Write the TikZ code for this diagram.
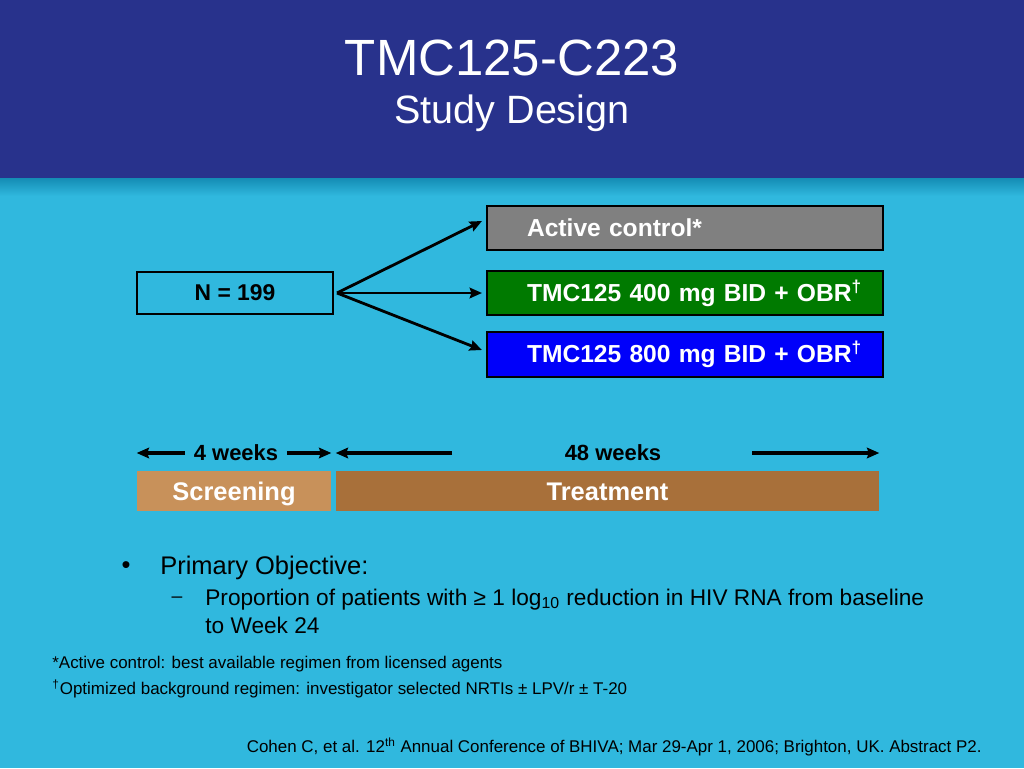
\documentclass[tikz,border=0pt]{standalone}
\usepackage{fontspec}
\setmainfont{Liberation Sans}
\usetikzlibrary{arrows.meta}
\definecolor{headblue}{RGB}{40,50,140}
\definecolor{skyblue}{RGB}{48,184,222}
\definecolor{edgeteal}{RGB}{20,140,180}
\definecolor{ctrlgray}{RGB}{128,128,128}
\definecolor{armgreen}{RGB}{0,122,0}
\definecolor{armblue}{RGB}{0,0,250}
\definecolor{screentan}{RGB}{200,145,90}
\definecolor{treatbrown}{RGB}{168,112,58}
\begin{document}
\begin{tikzpicture}[x=0.02cm,y=-0.02cm,
	armbox/.style={draw=black,line width=1.2pt,minimum width=7.92cm,minimum height=0.88cm,text width=7.8cm,align=left,inner sep=0pt,execute at begin node=\hspace*{0.74cm},text=white,font=\bfseries\fontsize{14}{17}\selectfont},
	phase/.style={minimum height=0.8cm,inner sep=0pt,text height=10.4pt,text depth=0pt,text=white,font=\bfseries\fontsize{14.5}{17}\selectfont},
	weeks/.style={inner sep=0.17cm,font=\bfseries\fontsize{12.5}{15}\selectfont},
	fanarrow/.style={-{Stealth[length=7pt,width=6pt,inset=1pt]},line width=1.6pt},
	timearrow/.style={-{Stealth[length=7pt,width=6pt,inset=1pt]},line width=2pt}]
		% background and title
		\fill[skyblue] (0,0) rectangle (1024,768);
		\shade[top color=edgeteal,bottom color=skyblue] (0,178) rectangle (1024,196);
		\fill[headblue] (0,0) rectangle (1024,178);
		\node[text=white,font=\fontsize{29}{33}\selectfont] (title) at (512,58) {TMC125-C223};
		\node[text=white,font=\fontsize{22.5}{26}\selectfont] (subtitle) at (512,113) {Study Design};
		% randomisation
		\node[draw=black,line width=1.2pt,minimum width=3.92cm,minimum height=0.84cm,font=\bfseries\fontsize{13}{16}\selectfont] (total) at (235,293) {N = 199};
		\node[armbox,fill=ctrlgray] (ctrl) at (685,228) {Active control*};
		\node[armbox,fill=armgreen] (arm400) at (685,293) {TMC125 400 mg BID + OBR\textsuperscript{†}};
		\node[armbox,fill=armblue,minimum height=0.9cm] (arm800) at (685,354.5) {TMC125 800 mg BID + OBR\textsuperscript{†}};
		\coordinate (fan) at (337,293);
		\draw[fanarrow] (fan) -- ([xshift=-0.08cm,yshift=0.14cm]ctrl.west);
		\draw[fanarrow] (fan) -- ([xshift=-0.08cm]arm400.west);
		\draw[fanarrow] (fan) -- ([xshift=-0.08cm,yshift=0.09cm]arm800.west);
		% timeline
		\node[phase,fill=screentan,minimum width=3.88cm] (scr) at (234,491) {Screening};
		\node[phase,fill=treatbrown,minimum width=10.86cm] (trt) at (607.5,491) {Treatment};
		\node[weeks] (wk4) at (236,453) {4 weeks};
		\node[weeks] (wk48) at (613,453) {48 weeks};
		\draw[timearrow] (wk4.west) -- (wk4.west -| scr.west);
		\draw[timearrow] (wk4.east) -- (wk4.east -| scr.east);
		\coordinate (l48) at (452,453);
		\coordinate (r48) at (752,453);
		\draw[timearrow] (l48) -- (l48 -| trt.west);
		\draw[timearrow] (r48) -- (r48 -| trt.east);
		% objective
		\node[font=\fontsize{14.5}{17}\selectfont] (dot) at (126,568) {•};
		\node[anchor=west,inner sep=0pt,font=\fontsize{14.5}{17}\selectfont] (goal) at (160,568) {Primary Objective:};
		\node[font=\fontsize{11}{14}\selectfont] (dash) at (177,600) {–};
		\node[anchor=west,inner sep=0pt,align=left,font=\fontsize{12.9}{15.9}\selectfont] (goaltext) at (205,611) {Proportion of patients with ≥ 1 log\textsubscript{10} reduction in HIV RNA from baseline\\to Week 24};
		% footnotes
		\node[anchor=west,inner sep=0pt,font=\fontsize{9.65}{11}\selectfont] (note1) at (52,664) {*Active control: best available regimen from licensed agents};
		\node[anchor=west,inner sep=0pt,font=\fontsize{9.65}{11}\selectfont] (note2) at (52,689) {\textsuperscript{†}Optimized background regimen: investigator selected NRTIs ± LPV/r ± T-20};
		\node[anchor=east,inner sep=0pt,font=\fontsize{9.65}{11}\selectfont] (cite) at (982,747) {Cohen C, et al. 12\textsuperscript{th} Annual Conference of BHIVA; Mar 29-Apr 1, 2006; Brighton, UK. Abstract P2.};
\end{tikzpicture}
\end{document}
